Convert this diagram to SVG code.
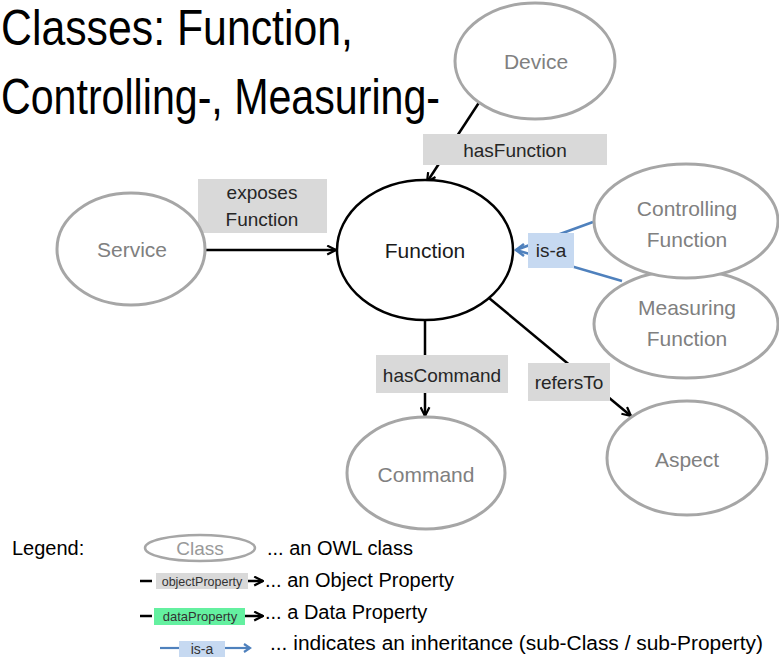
<svg xmlns="http://www.w3.org/2000/svg" width="779" height="661" viewBox="0 0 779 661">
<style>
text{font-family:"Liberation Sans",Arial,sans-serif;}
.cls{fill:#fff;stroke:#a6a6a6;stroke-width:3;}
.ctxt{fill:#808080;font-size:21px;text-anchor:middle;}
.lbl{fill:#d9d9d9;}
.ltxt{fill:#262626;font-size:19px;text-anchor:middle;}
.edge{stroke:#000;stroke-width:2.5;fill:none;}
.isa{stroke:#4f81bd;stroke-width:2.5;fill:none;}
.leg{fill:#000;font-size:20px;}
</style>
<defs>
<marker id="ah" viewBox="0 0 10 10" refX="9" refY="5" markerWidth="11" markerHeight="11" markerUnits="userSpaceOnUse" orient="auto">
<path d="M1,1 L9,5 L1,9" fill="none" stroke="#000" stroke-width="2"/>
</marker>
</defs>
<rect width="779" height="661" fill="#fff"/>
<g id="title">
<text x="1" y="45" font-size="50" textLength="352" lengthAdjust="spacingAndGlyphs" fill="#000">Classes: Function,</text>
<text x="1" y="114" font-size="50" textLength="439" lengthAdjust="spacingAndGlyphs" fill="#000">Controlling-, Measuring-</text>
</g>
<g id="connectors">
<line class="edge" x1="480" y1="101" x2="427" y2="182" marker-end="url(#ah)"/>
<line class="edge" x1="205" y1="250" x2="336" y2="250" marker-end="url(#ah)"/>
<line class="edge" x1="425" y1="320" x2="425" y2="416" marker-end="url(#ah)"/>
<line class="edge" x1="489" y1="298" x2="631" y2="416" marker-end="url(#ah)"/>
<line class="isa" x1="593" y1="222" x2="516" y2="250"/>
<line class="isa" x1="622" y1="281" x2="516" y2="250"/>
<path class="isa" d="M524,244 L516,250 L524,256"/>
<rect class="lbl" x="423" y="134" width="184" height="31"/>
<text class="ltxt" x="515" y="157">hasFunction</text>
<rect class="lbl" x="198" y="179" width="129" height="54"/>
<text class="ltxt" x="262" y="199" font-size="18.5">exposes</text>
<text class="ltxt" x="262" y="226" font-size="18.5">Function</text>
<rect class="lbl" x="376" y="355" width="132" height="38"/>
<text class="ltxt" x="442" y="382" font-size="18.5">hasCommand</text>
<rect class="lbl" x="528" y="363" width="82" height="38"/>
<text class="ltxt" x="569" y="389" font-size="18">refersTo</text>
<rect x="528" y="233" width="46" height="35" fill="#c6d9f1"/>
<text class="ltxt" x="551" y="257" font-size="16">is-a</text>
</g>
<g id="device">
<ellipse class="cls" cx="535" cy="61" rx="80" ry="58"/>
<text class="ctxt" x="536" y="69" font-size="20">Device</text>
</g>
<g id="function">
<ellipse cx="425" cy="250" rx="88" ry="70" fill="#fff" stroke="#000" stroke-width="2.5"/>
<text x="425" y="258" font-size="21" text-anchor="middle" fill="#1a1a1a">Function</text>
</g>
<g id="service">
<ellipse class="cls" cx="131" cy="249" rx="74" ry="56"/>
<text class="ctxt" x="132" y="257" font-size="20">Service</text>
</g>
<g id="measuring">
<ellipse class="cls" cx="686" cy="324" rx="92" ry="54"/>
<text class="ctxt" x="687" y="315">Measuring</text>
<text class="ctxt" x="687" y="346">Function</text>
</g>
<g id="controlling">
<ellipse class="cls" cx="686" cy="221" rx="92" ry="57"/>
<text class="ctxt" x="687" y="216">Controlling</text>
<text class="ctxt" x="687" y="247">Function</text>
</g>
<g id="command">
<ellipse class="cls" cx="426" cy="473" rx="79" ry="56"/>
<text class="ctxt" x="426" y="482">Command</text>
</g>
<g id="aspect">
<ellipse class="cls" cx="687" cy="458" rx="80" ry="57"/>
<text class="ctxt" x="687" y="467">Aspect</text>
</g>
<g id="legend">
<text class="leg" x="12" y="555">Legend:</text>
<ellipse cx="200" cy="548" rx="55" ry="13" fill="#fff" stroke="#a6a6a6" stroke-width="2.5"/>
<text x="200" y="555" font-size="19" text-anchor="middle" fill="#999">Class</text>
<text class="leg" x="267" y="555">... an OWL class</text>
<line class="edge" x1="140" y1="581" x2="152" y2="581"/>
<rect class="lbl" x="156" y="573" width="92" height="16"/>
<text x="202" y="586" font-size="12.5" text-anchor="middle" fill="#333">objectProperty</text>
<line class="edge" x1="248" y1="581" x2="263" y2="581" marker-end="url(#ah)"/>
<text class="leg" x="265" y="587">... an Object Property</text>
<line class="edge" x1="140" y1="616" x2="152" y2="616"/>
<rect x="154" y="608" width="91" height="17" fill="#64f0a0"/>
<text x="200" y="621" font-size="13" text-anchor="middle" fill="#333">dataProperty</text>
<line class="edge" x1="245" y1="616" x2="263" y2="616" marker-end="url(#ah)"/>
<text class="leg" x="265" y="619">... a Data Property</text>
<line x1="160" y1="648" x2="179" y2="648" stroke="#4f81bd" stroke-width="2.2"/>
<rect x="179" y="641" width="46" height="16" fill="#c6d9f1"/>
<text x="202" y="654" font-size="14" text-anchor="middle" fill="#333">is-a</text>
<line x1="225" y1="648" x2="250" y2="648" stroke="#4f81bd" stroke-width="2.2"/>
<path d="M244,644 L250,648 L244,652" fill="none" stroke="#4f81bd" stroke-width="2.2"/>
<text class="leg" x="270" y="650" textLength="493" lengthAdjust="spacingAndGlyphs">... indicates an inheritance (sub-Class / sub-Property)</text>
</g>
</svg>
